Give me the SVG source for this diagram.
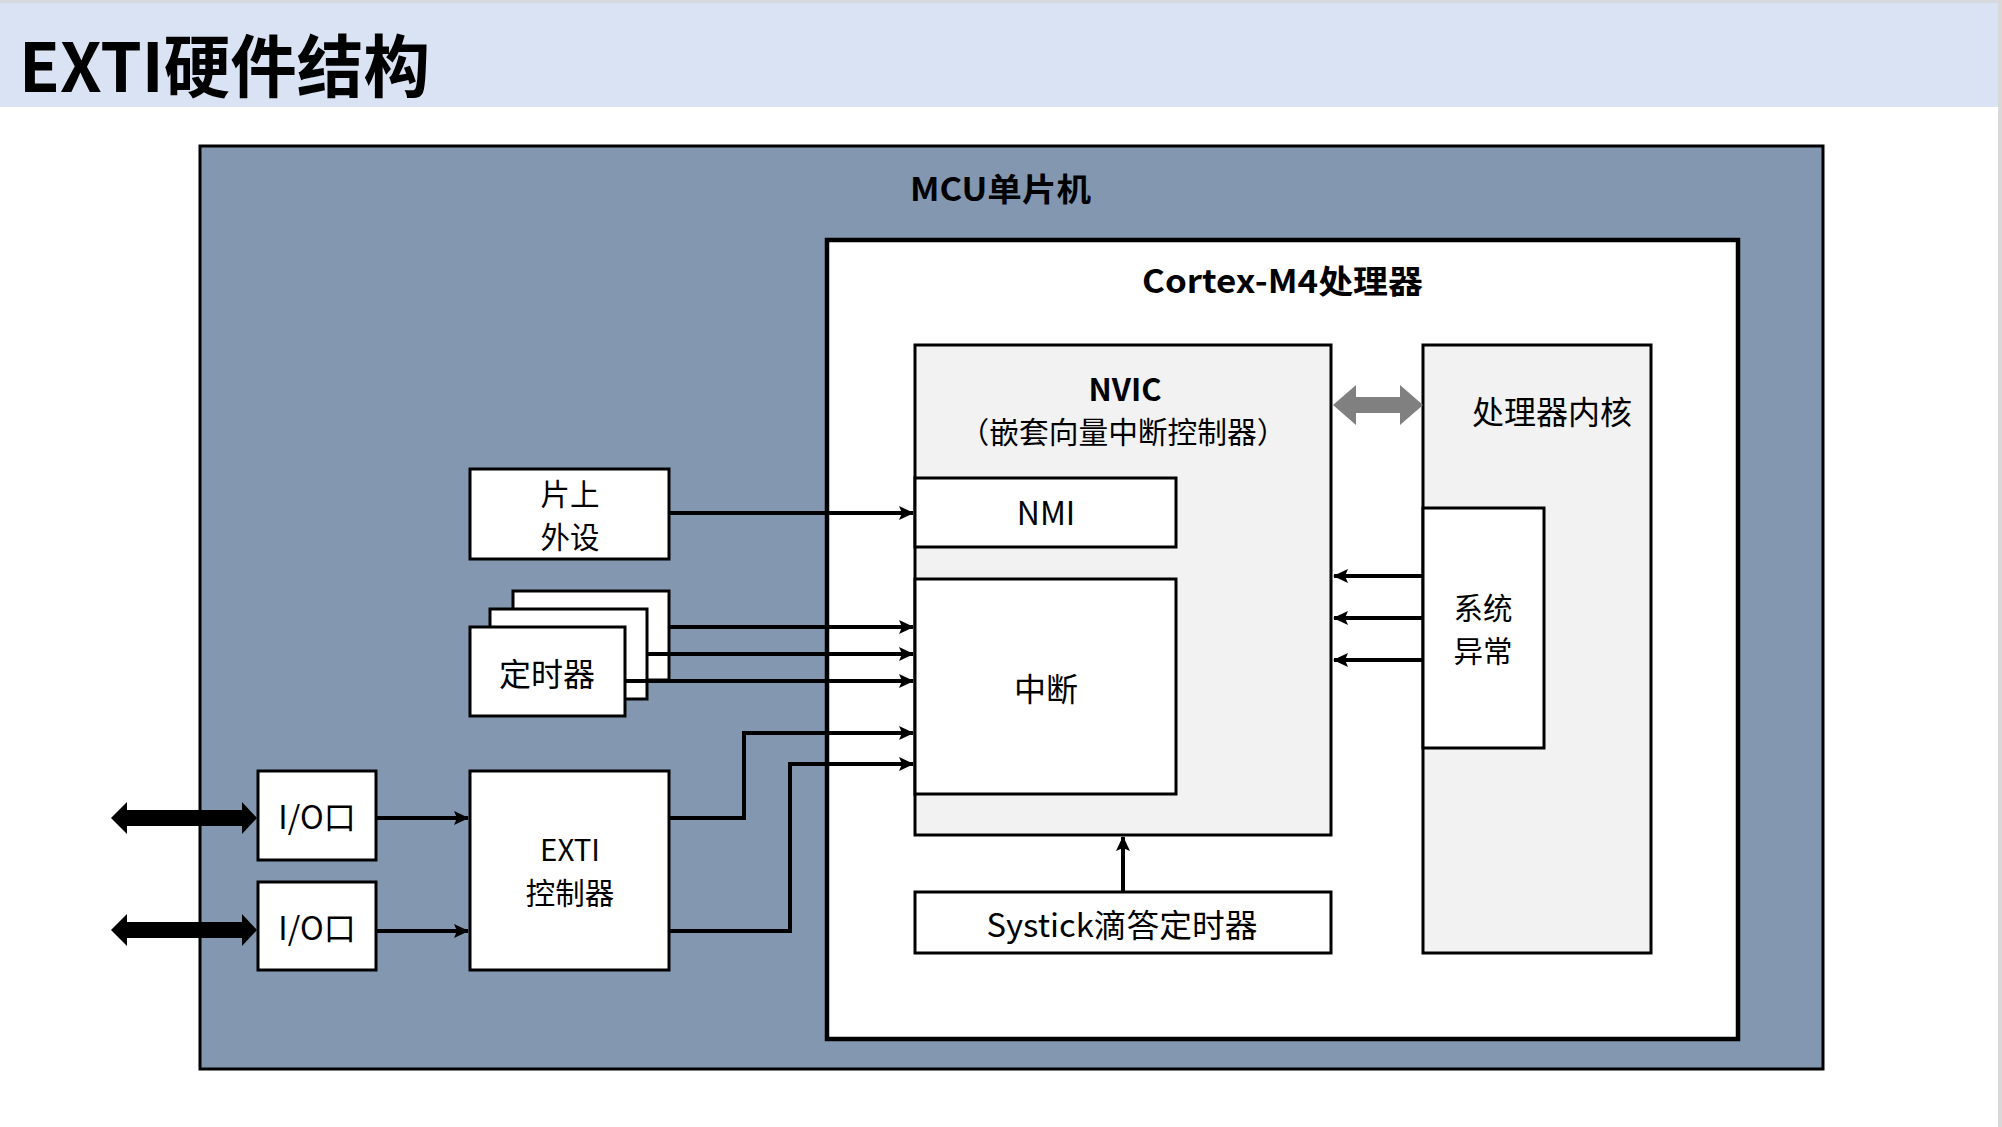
<svg xmlns="http://www.w3.org/2000/svg" width="2002" height="1127" viewBox="0 0 2002 1127">
<style>
.t{font-family:"Noto Sans CJK SC","Microsoft YaHei","Noto Sans",sans-serif;fill:#000;text-anchor:middle;dominant-baseline:central;font-size:32px}
.s{font-size:29.5px}
.b{font-weight:bold}
.box{fill:#fff;stroke:#000;stroke-width:3}
.gbox{fill:#F2F2F2;stroke:#000;stroke-width:3}
.ln{fill:none;stroke:#000;stroke-width:4}
</style>
<defs>
<marker id="ah" markerUnits="userSpaceOnUse" markerWidth="15" markerHeight="16" refX="14" refY="8" orient="auto">
<path d="M0,1 L15,8 L0,15 L3,8 Z" fill="#000"/>
</marker>
</defs>
<rect x="0" y="0" width="2002" height="1127" fill="#fff"/>
<g id="header">
<rect x="0" y="0" width="2002" height="107" fill="#DAE3F3"/>
<rect x="0" y="0" width="2002" height="3" fill="#D6D9DE"/>
<text class="t b" x="19" y="62" style="text-anchor:start;font-size:68px" textLength="411" lengthAdjust="spacingAndGlyphs">EXTI硬件结构</text>
</g>
<rect x="1998" y="0" width="4" height="1127" fill="#D9D9D9"/>
<g id="mcu">
<rect x="200" y="146" width="1623" height="923" fill="#8497B0" stroke="#000" stroke-width="3"/>
<text class="t b" x="910" y="187" style="text-anchor:start" textLength="181" lengthAdjust="spacingAndGlyphs">MCU单片机</text>
</g>
<g id="cortex">
<rect x="827" y="240" width="911" height="799" fill="#fff" stroke="#000" stroke-width="4.5"/>
<text class="t b" x="1142" y="279" style="text-anchor:start" textLength="281" lengthAdjust="spacingAndGlyphs">Cortex-M4处理器</text>
</g>
<g id="nvic">
<rect class="gbox" x="915" y="345" width="416" height="490"/>
<text class="t s"><tspan class="b" x="1125" y="387" style="font-size:31px">NVIC</tspan><tspan x="1123" y="430" textLength="327" lengthAdjust="spacingAndGlyphs">（嵌套向量中断控制器）</tspan></text>
</g>
<g id="nmi">
<rect class="box" x="915" y="478" width="261" height="69"/>
<text class="t" x="1046" y="511">NMI</text>
</g>
<g id="irq">
<rect class="box" x="915" y="579" width="261" height="215"/>
<text class="t" x="1046" y="687">中断</text>
</g>
<g id="core">
<rect class="gbox" x="1423" y="345" width="228" height="608"/>
<text class="t" x="1552" y="410">处理器内核</text>
</g>
<g id="sysexc">
<rect class="box" x="1423" y="508" width="121" height="240"/>
<text class="t s"><tspan x="1483" y="606">系统</tspan><tspan x="1483" y="649">异常</tspan></text>
</g>
<g id="systick">
<rect class="box" x="915" y="892" width="416" height="61"/>
<text class="t" x="1122" y="923" textLength="271" lengthAdjust="spacingAndGlyphs">Systick滴答定时器</text>
</g>
<g id="periph">
<rect class="box" x="470" y="469" width="199" height="90"/>
<text class="t s"><tspan x="570" y="492">片上</tspan><tspan x="570" y="535">外设</tspan></text>
</g>
<g id="timer">
<rect class="box" x="513" y="591" width="156" height="89"/>
<rect class="box" x="490" y="609" width="157" height="90"/>
<rect class="box" x="470" y="627" width="155" height="89"/>
<text class="t" x="547" y="672">定时器</text>
</g>
<g id="io1">
<rect class="box" x="258" y="771" width="118" height="89"/>
<text class="t" x="317" y="815">I/O口</text>
</g>
<g id="io2">
<rect class="box" x="258" y="882" width="118" height="88"/>
<text class="t" x="317" y="926">I/O口</text>
</g>
<g id="exti">
<rect class="box" x="470" y="771" width="199" height="199"/>
<text class="t s"><tspan x="570" y="848">EXTI</tspan><tspan x="570" y="891">控制器</tspan></text>
</g>
<g id="connectors">
<path class="ln" d="M669,513 H913" marker-end="url(#ah)"/>
<path class="ln" d="M669,627 H913" marker-end="url(#ah)"/>
<path class="ln" d="M647,654 H913" marker-end="url(#ah)"/>
<path class="ln" d="M625,681 H913" marker-end="url(#ah)"/>
<path class="ln" d="M669,818 H744 V733 H913" marker-end="url(#ah)"/>
<path class="ln" d="M669,931 H790 V764 H913" marker-end="url(#ah)"/>
<path class="ln" d="M377,818 H468" marker-end="url(#ah)"/>
<path class="ln" d="M377,931 H468" marker-end="url(#ah)"/>
<path class="ln" d="M1423,576 H1334" marker-end="url(#ah)"/>
<path class="ln" d="M1423,618 H1334" marker-end="url(#ah)"/>
<path class="ln" d="M1423,660 H1334" marker-end="url(#ah)"/>
<path class="ln" d="M1123,892 V837" marker-end="url(#ah)"/>
<path d="M111,818 L127,802 L127,810 L242,810 L242,802 L257,818 L242,834 L242,826 L127,826 L127,834 Z" fill="#000"/>
<path d="M111,930 L127,914 L127,922 L242,922 L242,914 L257,930 L242,946 L242,938 L127,938 L127,946 Z" fill="#000"/>
<path d="M1333,405 L1356,385 L1356,397 L1400,397 L1400,385 L1423,405 L1400,425 L1400,413 L1356,413 L1356,425 Z" fill="#808080"/>
</g>
</svg>
